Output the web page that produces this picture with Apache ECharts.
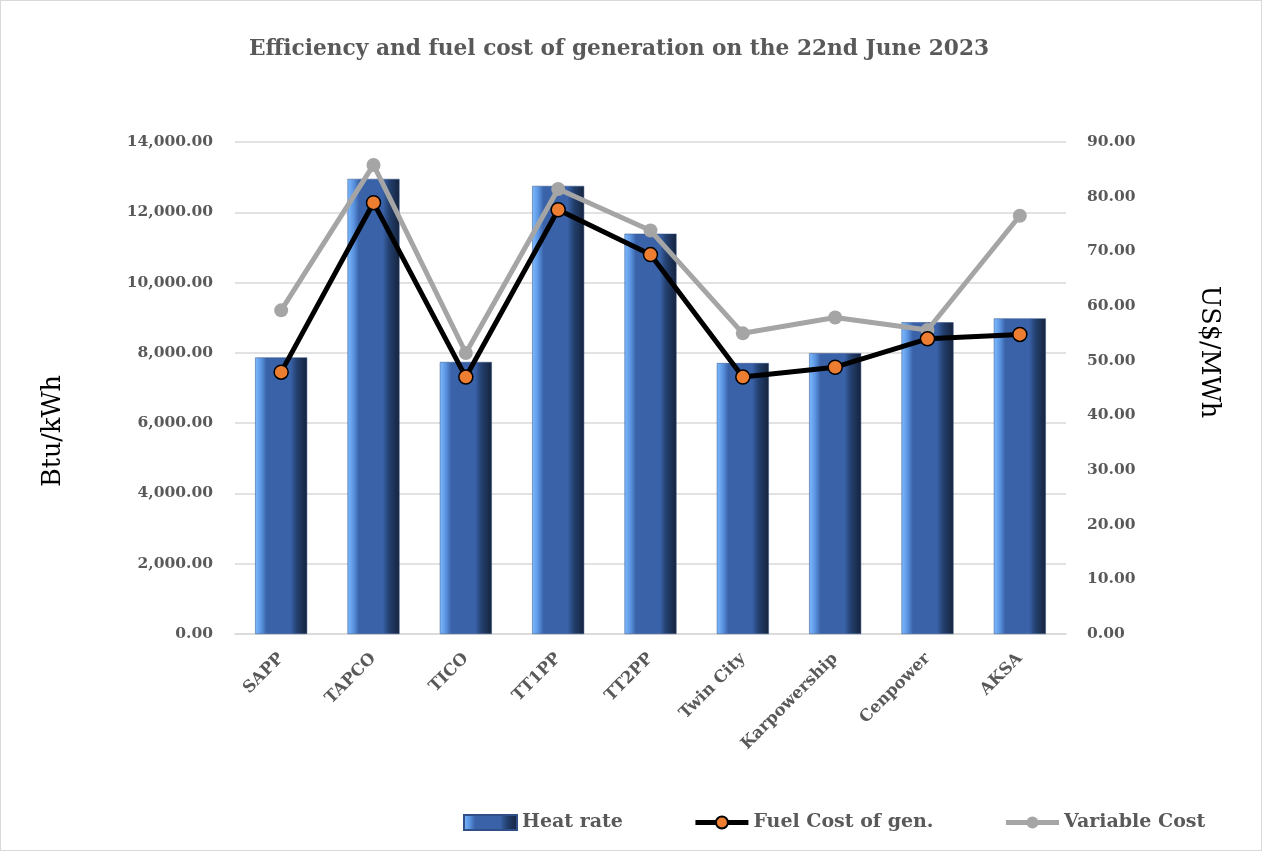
<!DOCTYPE html>
<html>
<head>
<meta charset="utf-8">
<script src="https://cdn.jsdelivr.net/npm/echarts@6/dist/echarts.min.js"></script>
<style>
html,body{margin:0;padding:0;background:#fff;}
#c{width:1262px;height:851px;box-sizing:border-box;border:1px solid #d9d9d9;}
</style>
</head>
<body>
<div id="c"></div>
<script>
const categories = ['SAPP','TAPCO','TICO','TT1PP','TT2PP','Twin City','Karpowership','Cenpower','AKSA'];
const heatRate = [7870, 12950, 7740, 12750, 11390, 7710, 7990, 8870, 8980];
const fuelCost = [47.9, 78.9, 47.0, 77.6, 69.4, 47.0, 48.8, 54.0, 54.8];
const variableCost = [59.2, 85.8, 51.4, 81.4, 73.8, 55.0, 57.9, 55.6, 76.5];
const leftTicks = {min: 0, max: 14000, interval: 2000};
const rightTicks = {min: 0, max: 90, interval: 10};

const WIDE = '"DejaVu Serif", "Liberation Serif", serif';
const GRAY = '#595959';
const chart = echarts.init(document.getElementById('c'));
const barGrad = new echarts.graphic.LinearGradient(0, 0, 1, 0, [
  {offset: 0, color: '#7dbbff'},
  {offset: 0.12, color: '#5a93e0'},
  {offset: 0.22, color: '#3a62a8'},
  {offset: 0.68, color: '#3a62a8'},
  {offset: 0.8, color: '#23406f'},
  {offset: 1, color: '#16233c'}
]);
const fmt2 = v => v.toLocaleString('en-US', {minimumFractionDigits: 2, maximumFractionDigits: 2});

chart.setOption({
  animation: false,
  textStyle: {fontFamily: WIDE},
  title: {
    text: 'Efficiency and fuel cost of generation on the 22nd June 2023',
    left: 243, top: 32,
    textStyle: {fontFamily: WIDE, fontSize: 21.7, fontWeight: 'bold', color: GRAY}
  },
  legend: {
    left: 457, top: 807,
    itemWidth: 53, itemHeight: 15, itemGap: 70,
    textStyle: {fontFamily: WIDE, fontSize: 19, fontWeight: 'bold', color: GRAY},
    data: [
      {name: 'Heat rate', icon: 'rect'},
      {name: 'Fuel Cost of gen.', lineStyle: {width: 5}},
      {name: 'Variable Cost', lineStyle: {width: 5}}
    ]
  },
  grid: {left: 234, right: 195, top: 141, bottom: 216},
  graphic: [
    {type: 'text', x: 52, y: 430, rotation: Math.PI / 2,
     style: {text: 'Btu/kWh', fontSize: 25.5, fontFamily: WIDE, fill: '#000', align: 'center', verticalAlign: 'middle'}},
    {type: 'text', x: 1208, y: 351, rotation: -Math.PI / 2,
     style: {text: 'US$/MWh', fontSize: 25.5, fontFamily: WIDE, fill: '#000', align: 'center', verticalAlign: 'middle'}}
  ],
  xAxis: {
    type: 'category', data: categories,
    axisLine: {lineStyle: {color: '#d9d9d9', width: 1.5}},
    axisTick: {show: false},
    axisLabel: {rotate: 45, margin: 22, fontFamily: WIDE, fontSize: 16.5, fontWeight: 'bold', color: GRAY}
  },
  yAxis: [
    {
      type: 'value', min: leftTicks.min, max: leftTicks.max, interval: leftTicks.interval,
      axisLine: {show: false}, axisTick: {show: false},
      axisLabel: {margin: 22, fontFamily: WIDE, fontSize: 15.5, fontWeight: 'bold', color: GRAY, formatter: fmt2},
      splitLine: {lineStyle: {color: '#d9d9d9', width: 1.5}}
    },
    {
      type: 'value', min: rightTicks.min, max: rightTicks.max, interval: rightTicks.interval,
      axisLine: {show: false}, axisTick: {show: false},
      axisLabel: {margin: 21, fontFamily: WIDE, fontSize: 15.5, fontWeight: 'bold', color: GRAY, formatter: v => v.toFixed(2)},
      splitLine: {show: false}
    }
  ],
  series: [
    {
      name: 'Heat rate', type: 'bar', yAxisIndex: 0, data: heatRate, barWidth: 52,
      itemStyle: {color: barGrad, borderColor: '#2f4f86', borderWidth: 0.5}
    },
    {
      name: 'Variable Cost', type: 'line', yAxisIndex: 1, data: variableCost,
      symbol: 'circle', symbolSize: 14, z: 3,
      lineStyle: {color: '#a5a5a5', width: 5},
      itemStyle: {color: '#a5a5a5'}
    },
    {
      name: 'Fuel Cost of gen.', type: 'line', yAxisIndex: 1, data: fuelCost,
      symbol: 'circle', symbolSize: 14, z: 4,
      lineStyle: {color: '#000', width: 5},
      itemStyle: {color: '#ed7d31', borderColor: '#000', borderWidth: 1.5}
    }
  ]
});
</script>
</body>
</html>
